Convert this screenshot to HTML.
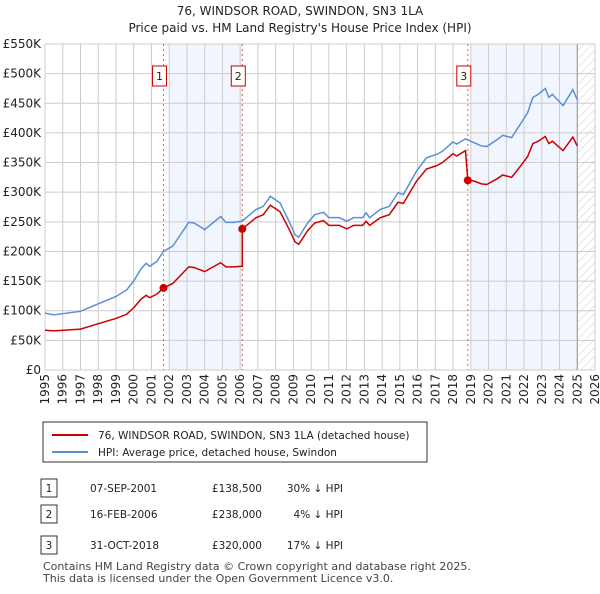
<!DOCTYPE html>
<html><head><meta charset="utf-8"><style>
body{margin:0;background:#fff;font-family:"DejaVu Sans","Liberation Sans",sans-serif;}
svg text{font-family:"DejaVu Sans","Liberation Sans",sans-serif;}
</style></head><body>
<svg id="c" width="600" height="590" xmlns="http://www.w3.org/2000/svg">
<defs><pattern id="hatch" width="6" height="6" patternUnits="userSpaceOnUse" patternTransform="rotate(45)"><line x1="0" y1="0" x2="0" y2="6" stroke="#ccc" stroke-width="1"/></pattern></defs>
<text x="300" y="15" text-anchor="middle" font-size="12" fill="#222">76, WINDSOR ROAD, SWINDON, SN3 1LA</text>
<text x="300" y="32" text-anchor="middle" font-size="12" fill="#222">Price paid vs. HM Land Registry's House Price Index (HPI)</text>
<g id="plot"></g>
<g>
<rect x="43" y="422" width="384" height="40" fill="#fff" stroke="#333" stroke-width="1"/>
<line x1="52" y1="435" x2="88" y2="435" stroke="#cc0000" stroke-width="2"/>
<text x="98" y="439" font-size="10.5" fill="#222">76, WINDSOR ROAD, SWINDON, SN3 1LA (detached house)</text>
<line x1="52" y1="452" x2="88" y2="452" stroke="#5b8fd6" stroke-width="2"/>
<text x="98" y="456" font-size="10.5" fill="#222">HPI: Average price, detached house, Swindon</text>
</g>
<g font-size="10.5" fill="#222">
<rect x="41" y="479" width="16" height="18" fill="#fff" stroke="#333"/><text x="49" y="492" text-anchor="middle">1</text>
<text x="90" y="492">07-SEP-2001</text><text x="262" y="492" text-anchor="end">£138,500</text><text x="343" y="492" text-anchor="end">30% ↓ HPI</text>
<rect x="41" y="505" width="16" height="18" fill="#fff" stroke="#333"/><text x="49" y="518" text-anchor="middle">2</text>
<text x="90" y="518">16-FEB-2006</text><text x="262" y="518" text-anchor="end">£238,000</text><text x="343" y="518" text-anchor="end">4% ↓ HPI</text>
<rect x="41" y="536" width="16" height="18" fill="#fff" stroke="#333"/><text x="49" y="549" text-anchor="middle">3</text>
<text x="90" y="549">31-OCT-2018</text><text x="262" y="549" text-anchor="end">£320,000</text><text x="343" y="549" text-anchor="end">17% ↓ HPI</text>
</g>
<text x="43" y="570" font-size="11" fill="#444">Contains HM Land Registry data © Crown copyright and database right 2025.</text>
<text x="43" y="582" font-size="11" fill="#444">This data is licensed under the Open Government Licence v3.0.</text>
</svg>
<script>
const hpiDates=[1995.0,1995.5,1997.0,1998.1,1999.0,1999.6,2000.0,2000.4,2000.7,2000.9,2001.3,2001.67,2002.2,2003.1,2003.4,2004.0,2004.9,2005.2,2005.6,2006.1,2006.9,2007.3,2007.7,2008.25,2008.8,2009.1,2009.3,2009.8,2010.2,2010.7,2011.0,2011.6,2012.0,2012.4,2012.9,2013.1,2013.3,2013.9,2014.4,2014.9,2015.2,2015.95,2016.5,2017.1,2017.4,2018.0,2018.2,2018.7,2019.15,2019.6,2019.9,2020.5,2020.8,2021.3,2021.8,2022.2,2022.5,2022.8,2023.2,2023.4,2023.6,2024.2,2024.75,2025.0];
const hpiValues=[96,93,99,113,124,135,150,170,180,175,183,200,209,249,248,237,259,249,249,251,271,276,293,282,248,228,224,248,262,266,257,257,251,257,257,265,257,271,276,299,296,336,358,364,369,385,381,390,384,378,377,389,396,392,415,434,460,465,475,460,465,446,473,456];
const priceDates=[1995.0,1995.5,1997.0,1998.1,1999.0,1999.6,2000.0,2000.4,2000.7,2000.9,2001.3,2001.68,2002.2,2003.1,2003.4,2004.0,2004.9,2005.2,2005.6,2006.12,2006.12,2006.9,2007.3,2007.7,2008.25,2008.8,2009.1,2009.3,2009.8,2010.2,2010.7,2011.0,2011.6,2012.0,2012.4,2012.9,2013.1,2013.3,2013.9,2014.4,2014.9,2015.2,2015.95,2016.5,2017.1,2017.4,2018.0,2018.2,2018.7,2018.83,2019.15,2019.6,2019.9,2020.5,2020.8,2021.3,2021.8,2022.2,2022.5,2022.8,2023.2,2023.4,2023.6,2024.2,2024.75,2025.0];
const priceValues=[67,66,69,79,87,94,105,119,126,122,128,138.5,146,174,173,166,181,174,174,175,238,257,262,278,267,235,216,212,235,248,252,244,244,238,244,244,251,244,257,262,283,281,319,339,345,350,365,361,370,320,319,314,313,323,329,325,344,360,382,386,394,382,386,370,393,378];
const saleDates=[2001.68,2006.12,2018.83];
const saleValues=[138.5,238,320];
const saleLabels=["1","2","3"];
const yTicks=[0,50,100,150,200,250,300,350,400,450,500,550];
const yTickLabels=["£0","£50K","£100K","£150K","£200K","£250K","£300K","£350K","£400K","£450K","£500K","£550K"];
const xTicks=[1995,1996,1997,1998,1999,2000,2001,2002,2003,2004,2005,2006,2007,2008,2009,2010,2011,2012,2013,2014,2015,2016,2017,2018,2019,2020,2021,2022,2023,2024,2025,2026];

const L=45,R=595,T=44,B=370,x0=1995,x1=2026,yMax=550;
const X=v=>L+(v-x0)/(x1-x0)*(R-L);
const Y=v=>B-v/yMax*(B-T);
const NS="http://www.w3.org/2000/svg";
const g=document.getElementById('plot');
function mk(tag,attrs,parent){const e=document.createElementNS(NS,tag);for(const k in attrs)e.setAttribute(k,attrs[k]);(parent||g).appendChild(e);return e;}

let s1=mk('rect',{x:X(2002),y:T,width:X(2006.12)-X(2002),height:B-T,fill:'#eef3fc',opacity:0.8});


let s2=mk('rect',{x:X(2019),y:T,width:X(2025)-X(2019),height:B-T,fill:'#eef3fc',opacity:0.8});


let hz=mk('rect',{x:X(2025),y:T,width:R-X(2025),height:B-T,fill:'url(#hatch)'});



yTicks.forEach((v,i)=>{
  let l=mk('line',{x1:L,x2:R,y1:Y(v),y2:Y(v),stroke:'#cccccc','stroke-width':1});
  
  
  let t=mk('text',{x:L-4,y:Y(v)+4,'text-anchor':'end','font-size':12,fill:'#222'});
  t.textContent=yTickLabels[i];
  
  
});
xTicks.forEach(v=>{
  let l=mk('line',{x1:X(v),x2:X(v),y1:T,y2:B,stroke:'#cccccc','stroke-width':1});
  
  
  let t=mk('text',{x:0,y:0,'text-anchor':'end','font-size':12,fill:'#222',transform:`translate(${X(v)+4},${B+4}) rotate(-90)`});
  t.textContent=v;
  
  
});
let el=mk('line',{x1:X(2025),x2:X(2025),y1:T,y2:B,stroke:'#999','stroke-width':1});



saleDates.forEach((d,i)=>{
  let l=mk('line',{x1:X(d),x2:X(d),y1:T,y2:B,stroke:'#e06060','stroke-width':1,'stroke-dasharray':'2,3'});
  
  
  let r=mk('rect',{x:X(d)-11,y:66,width:14,height:20,fill:'#fff',stroke:'#cc0000'});
  
  
  let t=mk('text',{x:X(d)-4,y:80,'text-anchor':'middle','font-size':11,fill:'#222'});
  t.textContent=saleLabels[i];
  
  
});

let hp=mk('polyline',{points:hpiDates.map((d,i)=>X(d)+','+Y(hpiValues[i])).join(' '),fill:'none',stroke:'#5b8fd6','stroke-width':1.5});


let pp=mk('polyline',{points:priceDates.map((d,i)=>X(d)+','+Y(priceValues[i])).join(' '),fill:'none',stroke:'#cc0000','stroke-width':1.5});


saleDates.forEach((d,i)=>{
  let c=mk('circle',{cx:X(d),cy:Y(saleValues[i]),r:4,fill:'#cc0000'});
  
  
});
</script>
</body></html>
